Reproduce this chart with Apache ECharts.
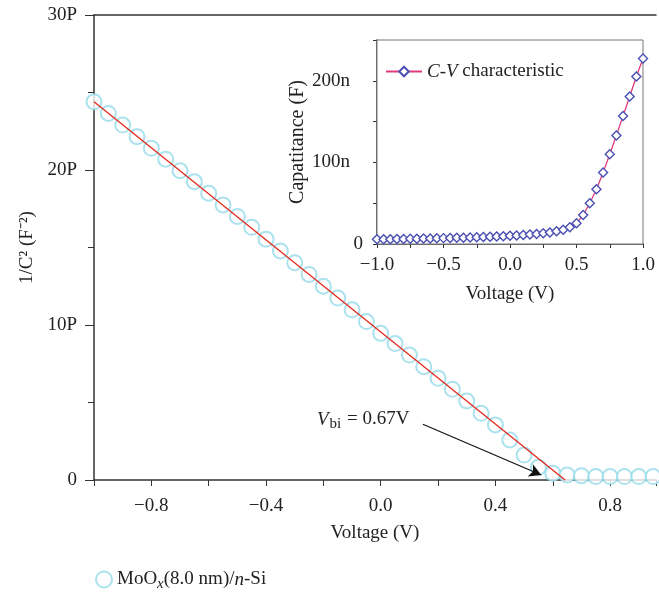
<!DOCTYPE html>
<html>
<head>
<meta charset="utf-8">
<script src="https://cdn.jsdelivr.net/npm/echarts@6/dist/echarts.min.js"></script>
<style>
html, body { margin: 0; padding: 0; background: #fff; }
#chart { width: 659px; height: 593px; }
</style>
</head>
<body>
<div id="chart"></div>
<script>
// main plot: 1/C^2 vs voltage (units of 1e12, "P")
var voltage = [-1.0, -0.95, -0.9, -0.85, -0.8, -0.75, -0.7, -0.65, -0.6, -0.55,
  -0.5, -0.45, -0.4, -0.35, -0.3, -0.25, -0.2, -0.15, -0.1, -0.05,
  0.0, 0.05, 0.1, 0.15, 0.2, 0.25, 0.3, 0.35, 0.4, 0.45,
  0.5, 0.55, 0.6, 0.65, 0.7, 0.75, 0.8, 0.85, 0.9, 0.95];
var invC2 = [24.4, 23.65, 22.9, 22.15, 21.4, 20.7, 19.95, 19.25, 18.5, 17.75,
  17.0, 16.3, 15.54, 14.78, 14.02, 13.26, 12.5, 11.74, 10.98, 10.22,
  9.46, 8.8, 8.06, 7.31, 6.56, 5.85, 5.1, 4.3, 3.55, 2.58,
  1.61, 0.82, 0.43, 0.32, 0.28, 0.22, 0.22, 0.22, 0.22, 0.22];
var fitV = [-1.0, 0.643];
var fitY = [24.4, 0];
var arrowFrom = [0.147, 3.6];
var arrowTo = [0.56, 0.32];

// inset: C-V (units of 1e-9, "n")
var cvVoltage = [-1.0, -0.95, -0.9, -0.85, -0.8, -0.75, -0.7, -0.65, -0.6, -0.55,
  -0.5, -0.45, -0.4, -0.35, -0.3, -0.25, -0.2, -0.15, -0.1, -0.05,
  0.0, 0.05, 0.1, 0.15, 0.2, 0.25, 0.3, 0.35, 0.4, 0.45,
  0.5, 0.55, 0.6, 0.65, 0.7, 0.75, 0.8, 0.85, 0.9, 0.95, 1.0];
var capacitance = [5.7, 5.8, 5.9, 6.0, 6.1, 6.3, 6.4, 6.6, 6.8, 7.0,
  7.2, 7.4, 7.6, 7.8, 8.0, 8.3, 8.6, 8.9, 9.2, 9.6,
  10.0, 10.5, 11.0, 11.6, 12.3, 13.1, 14.1, 15.6, 17.6, 20.4,
  25.3, 35.6, 49.9, 67.0, 87.5, 110.0, 132.9, 157.0, 180.8, 205.3, 227.4];

var FONT = 'Liberation Serif';
var TXT = '#222';
var FS = 19;

function zip(a, b) {
  return a.map(function (v, i) { return [v, b[i]]; });
}
function fmtNum(v) {
  return (v < 0 ? '\u2212' : '') + Math.abs(v).toFixed(1);
}

var chart = echarts.init(document.getElementById('chart'));

chart.setOption({
  animation: false,
  backgroundColor: '#fff',
  textStyle: { fontFamily: FONT, color: TXT },
  grid: [
    { left: 94, top: 15, right: 0, bottom: 113 },
    { left: 377, top: 40, width: 266, height: 204, show: true,
      borderColor: '#777', borderWidth: 1, backgroundColor: '#fff', z: 1 }
  ],
  legend: [
    {
      data: ['MoOx'],
      left: 90, top: 565, z: 10,
      itemWidth: 16, itemHeight: 16, itemGap: 6,
      formatter: function () {
        return '{a|MoO}{s|x}{a|(8.0 nm)/}{i|n}{a|-Si}';
      },
      textStyle: {
        fontFamily: FONT, fontSize: FS, color: TXT,
        rich: {
          a: { fontFamily: FONT, fontSize: FS, color: TXT },
          i: { fontFamily: FONT, fontSize: FS, fontStyle: 'italic', color: TXT },
          s: { fontFamily: FONT, fontSize: 15, fontStyle: 'italic', color: TXT, padding: [9, 0, 0, 0] }
        }
      }
    },
    {
      data: ['CV'],
      left: 380, top: 57, z: 10,
      itemWidth: 36, itemHeight: 12, itemGap: 8,
      formatter: function () {
        return '{i|C-V}{a| characteristic}';
      },
      textStyle: {
        fontFamily: FONT, fontSize: FS, color: TXT,
        rich: {
          a: { fontFamily: FONT, fontSize: FS, color: TXT },
          i: { fontFamily: FONT, fontSize: FS, fontStyle: 'italic', color: TXT }
        }
      }
    }
  ],
  xAxis: [
    {
      type: 'value', gridIndex: 0, min: -1.0, max: 0.96, interval: 0.2,
      name: 'Voltage (V)', nameLocation: 'middle', nameGap: 44,
      nameTextStyle: { fontFamily: FONT, fontSize: FS, color: TXT },
      axisLine: { onZero: false, lineStyle: { color: '#333', width: 1.5 } },
      axisTick: { show: true, length: 6, lineStyle: { color: '#333' } },
      axisLabel: {
        fontFamily: FONT, fontSize: FS, color: TXT, margin: 17,
        formatter: function (v) {
          var k = Math.round(v * 10);
          if (k % 4 !== 0 || k < -8 || k > 8) return '';
          return fmtNum(v);
        }
      },
      splitLine: { show: false }
    },
    {
      type: 'value', gridIndex: 1, min: -1.0, max: 1.0, interval: 0.25,
      name: 'Voltage (V)', nameLocation: 'middle', nameGap: 41,
      nameTextStyle: { fontFamily: FONT, fontSize: FS, color: TXT },
      axisLine: { onZero: false, lineStyle: { color: '#333', width: 1.5 } },
      axisTick: { show: true, length: 4, lineStyle: { color: '#333' } },
      axisLabel: {
        fontFamily: FONT, fontSize: FS, color: TXT, margin: 12,
        formatter: function (v) {
          if (Math.round(v * 100) % 50 !== 0) return '';
          return fmtNum(v);
        }
      },
      splitLine: { show: false }
    },
    {
      type: 'value', gridIndex: 0, position: 'top', min: -1.0, max: 0.96,
      axisLine: { onZero: false, lineStyle: { color: '#333', width: 1.5 } },
      axisTick: { show: false }, axisLabel: { show: false },
      splitLine: { show: false }
    }
  ],
  yAxis: [
    {
      type: 'value', gridIndex: 0, min: 0, max: 30, interval: 10,
      name: '1/C\u00B2 (F\u207B\u00B2)', nameLocation: 'middle', nameGap: 56,
      nameTextStyle: { fontFamily: FONT, fontSize: FS, color: TXT },
      axisLine: { onZero: false, lineStyle: { color: '#333', width: 1.5 } },
      axisTick: { show: true, length: 9, lineStyle: { color: '#333' } },
      minorTick: { show: true, splitNumber: 2, length: 6, lineStyle: { color: '#333' } },
      axisLabel: {
        fontFamily: FONT, fontSize: FS, color: TXT, margin: 17,
        formatter: function (v) { return v === 0 ? '0' : v + 'P'; }
      },
      splitLine: { show: false }
    },
    {
      type: 'value', gridIndex: 1, min: 0, max: 250, interval: 50,
      name: 'Capatitance (F)', nameLocation: 'middle', nameGap: 58,
      nameTextStyle: { fontFamily: FONT, fontSize: 20, color: TXT },
      axisLine: { onZero: false, lineStyle: { color: '#333', width: 1.5 } },
      axisTick: { show: true, length: 4, lineStyle: { color: '#333' } },
      axisLabel: {
        fontFamily: FONT, fontSize: FS, color: TXT, margin: 14,
        formatter: function (v) {
          if (v % 100 !== 0) return '';
          return v === 0 ? '0' : '{p|' + v + 'n}';
        },
        rich: { p: { fontFamily: FONT, fontSize: FS, color: TXT, padding: [0, 13, 0, 0] } }
      },
      splitLine: { show: false }
    }
  ],
  series: [
    {
      name: 'MoOx', type: 'scatter', xAxisIndex: 0, yAxisIndex: 0,
      symbol: 'emptyCircle', symbolSize: 15,
      itemStyle: { color: '#95dbea', borderColor: '#95dbea', borderWidth: 1.5 },
      data: zip(voltage, invC2), z: 2
    },
    {
      name: 'fit', type: 'line', xAxisIndex: 0, yAxisIndex: 0,
      showSymbol: false, silent: true,
      lineStyle: { color: '#e3291d', width: 1.3 },
      data: zip(fitV, fitY), z: 3,
      markLine: {
        silent: true, symbol: ['none', 'arrow'], symbolSize: [10, 12],
        lineStyle: { color: '#111', width: 1.2, type: 'solid' },
        label: { show: false },
        data: [[{ coord: arrowFrom }, { coord: arrowTo }]]
      }
    },
    {
      name: 'CV', type: 'line', xAxisIndex: 1, yAxisIndex: 1,
      symbol: 'diamond', symbolSize: 9, showAllSymbol: true,
      lineStyle: { color: '#e03a7c', width: 1.3 },
      itemStyle: { color: '#fff', borderColor: '#4a4fb2', borderWidth: 1.4 },
      data: zip(cvVoltage, capacitance), z: 6
    }
  ],
  graphic: [
    {
      type: 'text', left: 317, top: 410, z: 10,
      style: {
        text: '{v|V}{s|bi}{a| = 0.67V}',
        rich: {
          v: { fontFamily: FONT, fontSize: FS, fontStyle: 'italic', fill: TXT },
          a: { fontFamily: FONT, fontSize: FS, fill: TXT },
          s: { fontFamily: FONT, fontSize: 15, fill: TXT, padding: [9, 1, 0, 1] }
        }
      }
    }
  ]
});
</script>
</body>
</html>
